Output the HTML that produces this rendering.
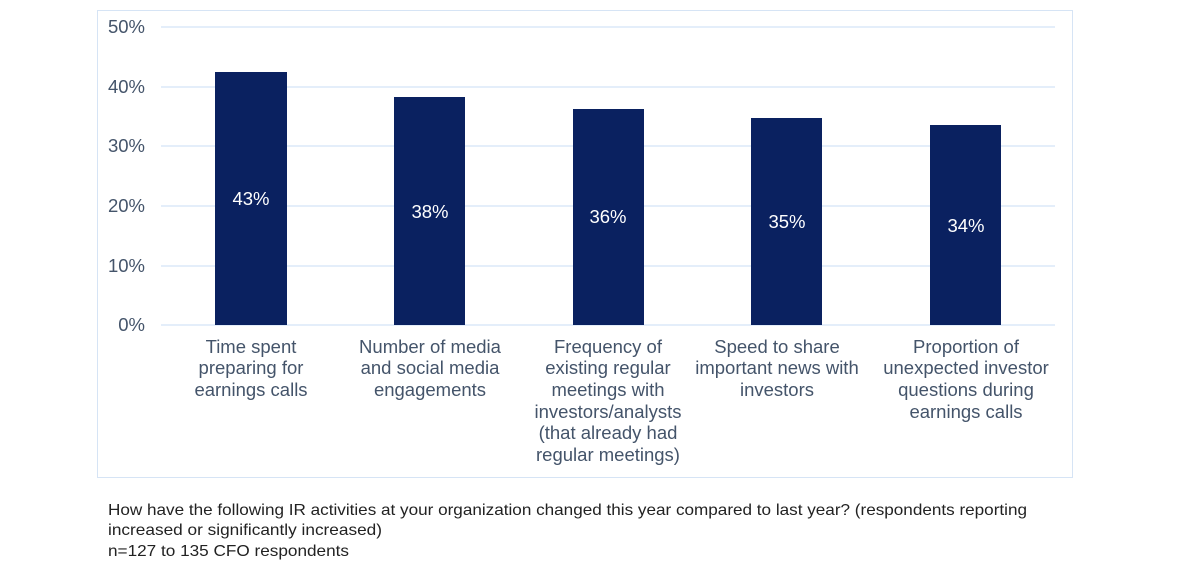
<!DOCTYPE html>
<html><head><style>
body{margin:0;background:#fff;width:1200px;height:565px;overflow:hidden;font-family:"Liberation Sans",sans-serif;}
</style></head><body>
<svg width="1200" height="565" xmlns="http://www.w3.org/2000/svg" font-family="Liberation Sans, sans-serif">
<rect x="97.5" y="10.5" width="975" height="467" fill="#fff" stroke="#d6e4f5" stroke-width="1"/>
<g stroke="#d4e3f7" stroke-width="1.2">
<line x1="161" x2="1055" y1="27" y2="27"/>
<line x1="161" x2="1055" y1="87" y2="87"/>
<line x1="161" x2="1055" y1="146" y2="146"/>
<line x1="161" x2="1055" y1="206" y2="206"/>
<line x1="161" x2="1055" y1="266" y2="266"/>
<line x1="161" x2="1055" y1="325" y2="325"/>
</g>
<g fill="#44546a" font-size="18.5" text-anchor="end">
<text x="145" y="33">50%</text>
<text x="145" y="93">40%</text>
<text x="145" y="152">30%</text>
<text x="145" y="212">20%</text>
<text x="145" y="272">10%</text>
<text x="145" y="331">0%</text>
</g>
<g fill="#0a2160">
<rect x="215" y="72" width="72" height="253"/>
<rect x="394" y="97" width="71" height="228"/>
<rect x="573" y="109" width="71" height="216"/>
<rect x="751" y="118" width="71" height="207"/>
<rect x="930" y="125" width="71" height="200"/>
</g>
<g fill="#fff" font-size="18.5" text-anchor="middle">
<text x="251" y="205">43%</text>
<text x="430" y="218">38%</text>
<text x="608" y="223">36%</text>
<text x="787" y="228">35%</text>
<text x="966" y="232">34%</text>
</g>
<g fill="#44546a" font-size="18.5" text-anchor="middle">
<text x="251" y="353">Time spent</text><text x="251" y="374">preparing for</text><text x="251" y="396">earnings calls</text>
<text x="430" y="353">Number of media</text><text x="430" y="374">and social media</text><text x="430" y="396">engagements</text>
<text x="608" y="353">Frequency of</text><text x="608" y="374">existing regular</text><text x="608" y="396">meetings with</text><text x="608" y="418">investors/analysts</text><text x="608" y="439">(that already had</text><text x="608" y="461">regular meetings)</text>
<text x="777" y="353">Speed to share</text><text x="777" y="374">important news with</text><text x="777" y="396">investors</text>
<text x="966" y="353">Proportion of</text><text x="966" y="374">unexpected investor</text><text x="966" y="396">questions during</text><text x="966" y="418">earnings calls</text>
</g>
<g fill="#222" font-size="16">
<text x="108" y="515" textLength="919" lengthAdjust="spacingAndGlyphs">How have the following IR activities at your organization changed this year compared to last year? (respondents reporting</text>
<text x="108" y="535" textLength="274" lengthAdjust="spacingAndGlyphs">increased or significantly increased)</text>
<text x="108" y="556" textLength="241" lengthAdjust="spacingAndGlyphs">n=127 to 135 CFO respondents</text>
</g>
</svg>
</body></html>
